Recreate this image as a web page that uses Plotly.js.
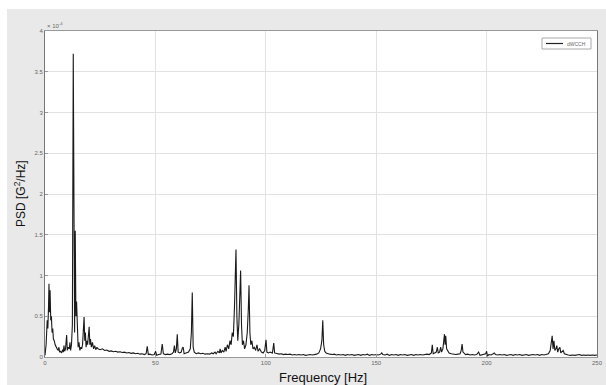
<!DOCTYPE html>
<html><head><meta charset="utf-8">
<script src="https://cdn.plot.ly/plotly-3.0.1.min.js"></script>
<style>html,body{margin:0;padding:0;background:#fff}#chart{width:606px;height:385px}</style>
</head><body><div id="chart"></div>
<script>
// Frequency [Hz]
const freq = [0,0.5,1.0,1.3,1.6,1.8,2.0,2.3,2.6,2.9,3.2,3.5,3.8,4.2,4.6,5.0,5.5,6.0,6.3,6.6,7.0,7.5,8.0,8.3,8.6,8.9,9.3,9.8,10.1,10.5,11.0,11.3,11.6,12.0,12.4,12.8,13.1,13.4,13.7,14.0,14.3,14.6,15.0,15.4,15.8,16.2,16.6,17.0,17.4,17.7,18.0,18.3,18.6,19.0,19.3,19.7,20.0,20.3,20.6,21.0,21.5,22.0,22.5,23.0,23.5,24.0,25,26,27,28,29,30,31,32,33,34,35,36,37,38,39,40,41,42,43,44,45,45.8,46.3,46.8,47.5,48.5,49.5,50.1,50.6,51.5,52.5,53.1,53.6,54.5,55.5,56.5,57.5,58.2,58.6,59.0,59.5,59.9,60.3,61.0,61.7,62.2,62.6,63.0,64.0,65.0,65.8,66.3,66.7,67.1,67.6,68.5,69.5,70.5,71.5,72.5,73.5,74.5,75.5,76.2,77.0,77.5,78.3,79.0,79.3,79.7,80.3,81.0,81.6,82.0,82.6,83.2,83.8,84.3,84.8,85.3,85.8,86.2,86.5,86.9,87.3,87.8,88.2,88.6,89.0,89.4,89.9,90.4,91.0,91.6,92.1,92.4,92.8,93.2,93.7,94.2,94.8,95.4,96.0,96.5,97.2,98.0,98.8,99.5,100.1,100.5,101.2,102.0,103.0,103.6,104.0,105,106,107,108,109,110,111,112,113,114,115,116,117,118,119,120,121,122,123,124,124.8,125.4,125.8,126.2,126.7,127.3,128,129,130,131,132,133,134,135,136,137,138,139,140,141,142,143,144,145,146,147,148,149,150,151,152,152.5,153,154,155,156,157,158,159,160,161,162,163,164,165,166,167,168,169,170,171,172,173,174,175,175.4,175.8,176.5,177.2,177.7,178.1,178.7,179.2,179.6,180.2,180.6,180.9,181.2,181.5,181.9,182.4,183,184,185,186,187,188,188.5,188.9,189.3,189.8,190.5,191.5,192.5,193.5,194.5,195.5,196.4,197,198,199,199.6,200,200.4,201,202,203,203.5,204,205,206,207,208,209,210,211,212,213,214,215,216,217,218,219,220,221,222,223,224,225,226,227,228,228.8,229.3,229.7,230.1,230.5,230.9,231.4,231.8,232.2,232.7,233.2,233.6,234.2,234.7,235.2,236,237,238,239,240,241,242,243,244,245,246,247,248,249,250];
// PSD in units of 1e-4 G^2/Hz
const psd = [0.02,0.15,0.45,0.35,0.62,0.90,0.55,0.82,0.45,0.5,0.3,0.35,0.22,0.2,0.15,0.12,0.1,0.08,0.12,0.06,0.07,0.05,0.09,0.06,0.14,0.07,0.1,0.27,0.08,0.12,0.1,0.18,0.08,0.15,0.4,3.72,0.9,0.3,1.55,0.5,0.68,0.25,0.12,0.18,0.08,0.12,0.1,0.15,0.3,0.49,0.2,0.3,0.12,0.2,0.15,0.28,0.37,0.15,0.22,0.12,0.18,0.1,0.14,0.09,0.12,0.1,0.09,0.1,0.08,0.085,0.07,0.075,0.065,0.07,0.06,0.065,0.055,0.06,0.05,0.055,0.045,0.05,0.04,0.045,0.035,0.04,0.03,0.04,0.13,0.03,0.035,0.025,0.03,0.07,0.02,0.03,0.035,0.16,0.04,0.03,0.035,0.03,0.04,0.06,0.14,0.05,0.1,0.28,0.06,0.05,0.06,0.11,0.12,0.04,0.05,0.06,0.1,0.3,0.79,0.12,0.06,0.04,0.05,0.04,0.045,0.035,0.04,0.035,0.05,0.04,0.06,0.04,0.07,0.05,0.1,0.05,0.08,0.06,0.12,0.07,0.15,0.1,0.2,0.15,0.3,0.25,0.6,0.9,1.32,0.5,0.2,0.4,0.7,1.06,0.4,0.15,0.2,0.1,0.15,0.3,0.6,0.88,0.3,0.15,0.2,0.1,0.12,0.08,0.15,0.07,0.1,0.06,0.05,0.08,0.21,0.06,0.05,0.06,0.05,0.17,0.05,0.04,0.035,0.04,0.03,0.035,0.03,0.035,0.025,0.03,0.025,0.03,0.025,0.03,0.02,0.025,0.03,0.025,0.03,0.035,0.05,0.1,0.2,0.45,0.15,0.07,0.05,0.04,0.035,0.03,0.035,0.025,0.03,0.025,0.03,0.02,0.03,0.025,0.03,0.02,0.025,0.03,0.02,0.03,0.025,0.035,0.02,0.03,0.025,0.03,0.025,0.035,0.05,0.03,0.025,0.035,0.02,0.03,0.025,0.03,0.02,0.03,0.025,0.03,0.02,0.025,0.03,0.02,0.03,0.025,0.03,0.025,0.03,0.035,0.03,0.05,0.15,0.04,0.05,0.06,0.12,0.05,0.06,0.12,0.06,0.1,0.2,0.28,0.15,0.26,0.1,0.07,0.05,0.04,0.035,0.03,0.035,0.04,0.08,0.16,0.06,0.05,0.03,0.035,0.025,0.03,0.025,0.03,0.06,0.02,0.025,0.03,0.04,0.07,0.01,0.03,0.025,0.04,0.05,0.03,0.025,0.03,0.025,0.03,0.02,0.025,0.03,0.02,0.03,0.025,0.03,0.02,0.025,0.03,0.02,0.025,0.03,0.025,0.03,0.02,0.03,0.025,0.035,0.04,0.08,0.2,0.26,0.1,0.2,0.08,0.1,0.14,0.06,0.1,0.12,0.05,0.07,0.08,0.04,0.03,0.025,0.02,0.025,0.02,0.025,0.03,0.02,0.025,0.02,0.025,0.02,0.025,0.02,0.025];
const xTicks = [0,50,100,150,200,250];
const yTicks = [0,0.5,1,1.5,2,2.5,3,3.5,4];
const yTickText = ['0','0.5','1','1.5','2','2.5','3','3.5','4'];
const seriesName = 'dWCCH';

const W = 552, H = 326; // plot area px
const px = v => (v - 45) / W;       // pixel x -> paper
const py = v => 1 - (v - 31) / H;   // pixel y -> paper
const trace = {x: freq, y: psd, type: 'scatter', mode: 'lines', name: seriesName,
  line: {color: '#1a1a1a', width: 1.1}};
const layout = {
  width: 606, height: 385,
  margin: {l: 45, r: 9, t: 31, b: 28, pad: 0},
  paper_bgcolor: '#e9e9e9', plot_bgcolor: '#ffffff',
  font: {family: 'Liberation Sans, Arial, sans-serif', color: '#555'},
  showlegend: false,
  xaxis: {range: [0, 250], tickvals: xTicks, ticktext: xTicks.map(String), tickfont: {size: 6, color: '#666'},
    showgrid: true, gridcolor: '#e2e2e2', zeroline: false, showline: true, linecolor: '#999', linewidth: 1,
    mirror: true, ticks: 'inside', ticklen: 3, tickcolor: '#999'},
  yaxis: {range: [0, 4], tickvals: yTicks, ticktext: yTickText, tickfont: {size: 6, color: '#666'},
    showgrid: true, gridcolor: '#e2e2e2', zeroline: false, showline: true, linecolor: '#777', linewidth: 1,
    mirror: true, ticks: 'inside', ticklen: 3, tickcolor: '#999'},
  shapes: [
    {type: 'rect', xref: 'paper', yref: 'paper', x0: px(0), x1: px(606), y0: py(9), y1: py(0),
      fillcolor: '#fff', line: {width: 0}, layer: 'below'},
    {type: 'rect', xref: 'paper', yref: 'paper', x0: px(0), x1: px(7), y0: py(385), y1: py(0),
      fillcolor: '#fff', line: {width: 0}, layer: 'below'},
    // legend box
    {type: 'rect', xref: 'paper', yref: 'paper', x0: px(542), x1: px(591), y0: py(49), y1: py(38),
      fillcolor: '#fff', line: {width: 1, color: '#aaa'}},
    {type: 'line', xref: 'paper', yref: 'paper', x0: px(546), x1: px(563), y0: py(43.5), y1: py(43.5),
      line: {width: 1.2, color: '#222'}}
  ],
  annotations: [
    {text: seriesName, xref: 'paper', yref: 'paper', x: px(565), xanchor: 'left', y: py(43.5), yanchor: 'middle',
      showarrow: false, font: {size: 5, color: '#666'}},
    {text: '× 10<sup>-4</sup>', xref: 'paper', yref: 'paper', x: 0, xanchor: 'left', y: 1, yanchor: 'bottom',
      showarrow: false, font: {size: 6, color: '#666'}},
    {text: 'PSD [G<sup>2</sup>/Hz]', xref: 'paper', yref: 'paper', x: px(20), xanchor: 'center', y: 0.5, yanchor: 'middle',
      textangle: -90, showarrow: false, font: {size: 12, color: '#111'}},
    {text: 'Frequency [Hz]', xref: 'paper', yref: 'paper', x: px(323), xanchor: 'center', y: py(377), yanchor: 'middle',
      showarrow: false, font: {size: 13, color: '#111'}}
  ]
};
Plotly.newPlot('chart', [trace], layout, {displayModeBar: false, staticPlot: true});
</script></body></html>
